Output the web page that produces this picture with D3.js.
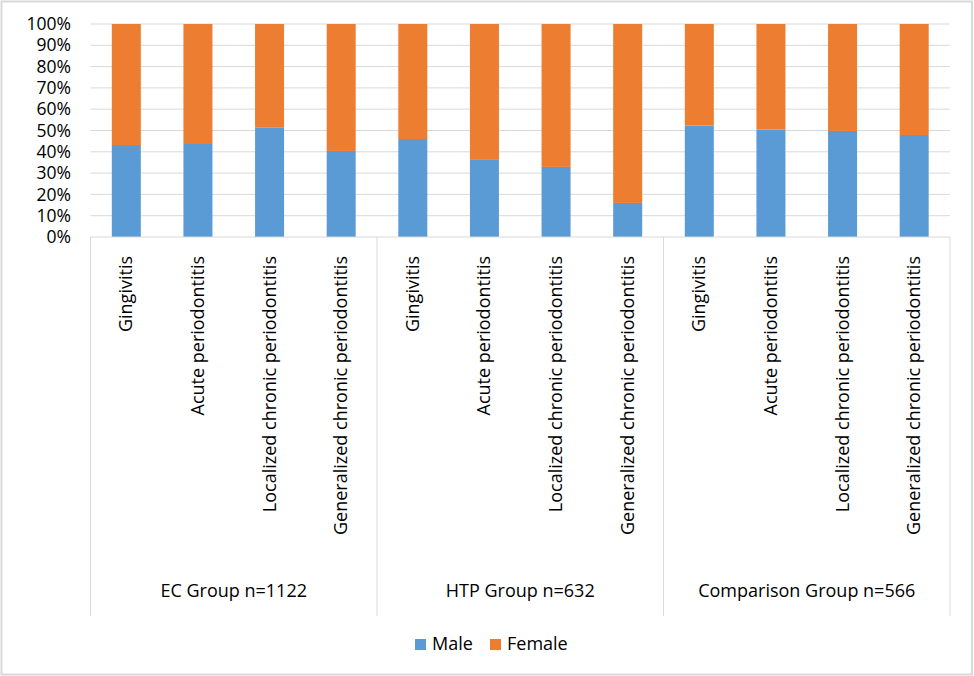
<!DOCTYPE html>
<html>
<head>
<meta charset="utf-8">
<script src="https://cdn.jsdelivr.net/npm/d3@7"></script>
<style>
  body { margin: 0; background: #fff; }
  svg { font-family: "Open Sans", Lato, sans-serif; }
  .grid line { stroke: #d9d9d9; }
  .tick text { fill: #000; }
</style>
</head>
<body>
<script>
// data (male share, female is the rest)
var groups = ["EC Group n=1122", "HTP Group n=632", "Comparison Group n=566"];
var diagnoses = ["Gingivitis", "Acute periodontitis", "Localized chronic periodontitis", "Generalized chronic periodontitis"];
var maleShare = [
    [43.2, 44.1, 51.3, 40.4],
    [46.0, 36.2, 32.9, 16.0],
    [52.3, 50.4, 49.8, 47.9]
];
var seriesNames = ["Male", "Female"];
var seriesColors = ["#5b9bd5", "#ed7d31"];
var yTicks = [0, 10, 20, 30, 40, 50, 60, 70, 80, 90, 100];

var rows = [];
groups.forEach(function(g, gi) {
    diagnoses.forEach(function(d, di) {
        rows.push({key: gi + "|" + di, group: g, diagnosis: d,
                   Male: maleShare[gi][di], Female: 100 - maleShare[gi][di]});
    });
});

var W = 974, H = 676;
var fs = 18;
var plot = {left: 90.5, right: 950, top: 24, bottom: 237};

var svg = d3.select("body").append("svg")
    .attr("width", W)
    .attr("height", H);

svg.append("rect")
    .attr("x", 1.5).attr("y", 1.5)
    .attr("width", W - 3.5).attr("height", H - 3)
    .attr("fill", "#fff")
    .attr("stroke", "#d9d9d9")
    .attr("stroke-width", 2);

var x = d3.scaleBand()
    .domain(rows.map(function(d) { return d.key; }))
    .range([plot.left, plot.right])
    .paddingInner(0.595)
    .paddingOuter(0.2975);

var y = d3.scaleLinear()
    .domain([0, 100])
    .range([plot.bottom, plot.top]);

// gridlines
svg.append("g")
    .attr("class", "grid")
    .selectAll("line")
    .data(yTicks.slice(1))
  .enter().append("line")
    .attr("x1", plot.left).attr("x2", plot.right)
    .attr("y1", function(d) { return y(d); })
    .attr("y2", function(d) { return y(d); });

// y axis labels
var yAxis = d3.axisLeft(y)
    .tickValues(yTicks)
    .tickSize(0)
    .tickPadding(0)
    .tickFormat(function(d) { return d + "%"; });

var yg = svg.append("g")
    .attr("transform", "translate(71,0)")
    .call(yAxis);
yg.select(".domain").remove();
yg.selectAll("text").attr("font-size", 17.5).attr("font-family", "\"Open Sans\", sans-serif");

// stacked bars
var stack = d3.stack().keys(seriesNames);
var layers = stack(rows);

svg.selectAll(".layer")
    .data(layers)
  .enter().append("g")
    .attr("class", "layer")
    .attr("fill", function(d, i) { return seriesColors[i]; })
  .selectAll("rect")
    .data(function(d) { return d; })
  .enter().append("rect")
    .attr("x", function(d) { return x(d.data.key); })
    .attr("y", function(d) { return y(d[1]); })
    .attr("width", x.bandwidth())
    .attr("height", function(d) { return y(d[0]) - y(d[1]); });

// category axis: baseline and group separators
var groupW = (plot.right - plot.left) / groups.length;
svg.append("line")
    .attr("x1", plot.left).attr("x2", plot.right)
    .attr("y1", plot.bottom).attr("y2", plot.bottom)
    .attr("stroke", "#d9d9d9");

svg.selectAll(".sep")
    .data(d3.range(groups.length + 1))
  .enter().append("line")
    .attr("class", "sep")
    .attr("x1", function(i) { return plot.left + i * groupW; })
    .attr("x2", function(i) { return plot.left + i * groupW; })
    .attr("y1", plot.bottom).attr("y2", 616)
    .attr("stroke", "#d9d9d9");

// rotated diagnosis labels
svg.selectAll(".diag")
    .data(rows)
  .enter().append("text")
    .attr("class", "diag")
    .attr("transform", function(d) {
        return "translate(" + (x(d.key) + x.bandwidth() / 2 + 6) + "," + 256 + ") rotate(-90)";
    })
    .attr("text-anchor", "end")
    .attr("font-size", fs)
    .attr("fill", "#000")
    .text(function(d) { return d.diagnosis; });

// group labels
svg.selectAll(".grp")
    .data(groups)
  .enter().append("text")
    .attr("class", "grp")
    .attr("x", function(d, i) { return plot.left + (i + 0.5) * groupW; })
    .attr("y", 597)
    .attr("text-anchor", "middle")
    .attr("font-size", fs)
    .attr("fill", "#000")
    .text(function(d) { return d; });

// legend
var legend = svg.append("g")
    .attr("transform", "translate(415,639)");
var lx = [0, 75];
seriesNames.forEach(function(s, i) {
    legend.append("rect")
        .attr("x", lx[i]).attr("y", 0)
        .attr("width", 11).attr("height", 11)
        .attr("fill", seriesColors[i]);
    legend.append("text")
        .attr("x", lx[i] + 17).attr("y", 11)
        .attr("font-size", fs)
        .attr("fill", "#000")
        .text(s);
});
</script>
</body>
</html>
